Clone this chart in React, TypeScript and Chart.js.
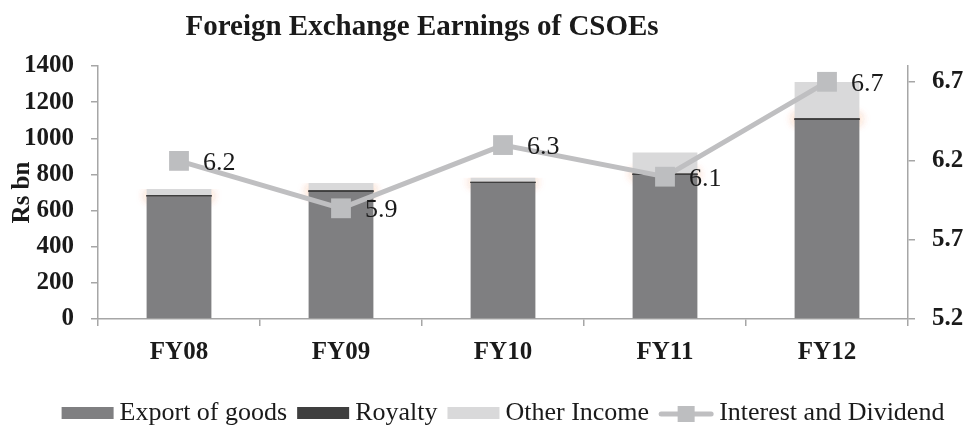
import React, { useEffect, useRef } from 'react';
import { Chart, registerables } from 'chart.js';

Chart.register(...registerables);

const categories = ['FY08', 'FY09', 'FY10', 'FY11', 'FY12'];
const exportGoods = [678, 703, 753, 797, 1101];
const royalty = [8, 10, 7, 8, 10];
const otherIncome = [33, 39, 22, 117, 201];
const interestDividend = [6.2, 5.9, 6.3, 6.1, 6.7];
const rightTicks = [5.2, 5.7, 6.2, 6.7];

const SERIF = '"Liberation Serif", "Times New Roman", serif';
const TEXT = '#1a1a1a';
const AXIS = '#a6a6a6';
const C_EXPORT = '#7f7f81';
const C_ROYALTY = '#3f3f3f';
const C_OTHER = '#d9d9da';
const C_LINE = '#bfbfc1';
const C_MARK = '#bdbec0';

const glowPlugin = {
  id: 'glow',
  beforeDatasetsDraw(chart: any) {
    const meta = chart.getDatasetMeta(1);
    const top = chart.getDatasetMeta(2);
    const ctx = chart.ctx;
    ctx.save();
    ctx.beginPath();
    top.data.forEach((el: any) => {
      ctx.rect(el.x - 60, el.y, 120, chart.chartArea.bottom - el.y);
    });
    ctx.clip();
    ctx.shadowColor = 'rgba(240,120,50,0.9)';
    ctx.shadowBlur = 12;
    for (let k = 0; k < 3; k++) meta.data.forEach((el: any) => el.draw(ctx));
    ctx.restore();
  },
};

const labelPlugin = {
  id: 'pointLabels',
  afterDatasetsDraw(chart: any) {
    const meta = chart.getDatasetMeta(3);
    const ctx = chart.ctx;
    ctx.save();
    ctx.font = `26px ${SERIF}`;
    ctx.fillStyle = TEXT;
    ctx.textAlign = 'left';
    ctx.textBaseline = 'middle';
    meta.data.forEach((pt: any, i: number) => {
      ctx.fillText(interestDividend[i].toFixed(1), pt.x + 24, pt.y + 2);
    });
    ctx.restore();
  },
};

const titlePlugin = {
  id: 'customTitle',
  afterDraw(chart: any) {
    const ctx = chart.ctx;
    ctx.save();
    ctx.font = `bold 29px ${SERIF}`;
    ctx.fillStyle = TEXT;
    ctx.textAlign = 'center';
    ctx.textBaseline = 'middle';
    ctx.fillText('Foreign Exchange Earnings of CSOEs', chart.width * 0.436, 28);
    ctx.restore();
  },
};

const legendPlugin = {
  id: 'customLegend',
  afterDraw(chart: any) {
    const ctx = chart.ctx;
    const items = [
      { kind: 'box', color: C_EXPORT, text: 'Export of goods' },
      { kind: 'box', color: C_ROYALTY, text: 'Royalty' },
      { kind: 'box', color: C_OTHER, text: 'Other Income' },
      { kind: 'line', color: C_LINE, text: 'Interest and Dividend' },
    ];
    ctx.save();
    ctx.font = `26px ${SERIF}`;
    const boxW = 52, lineW = 54, gapT = 6, gapI = 10;
    let total = 0;
    items.forEach((it, i) => {
      total += (it.kind === 'box' ? boxW : lineW) + gapT + ctx.measureText(it.text).width;
      if (i < items.length - 1) total += gapI;
    });
    const ca = chart.chartArea;
    let x = (ca.left + ca.right) / 2 - total / 2;
    const cy = 413;
    ctx.textBaseline = 'middle';
    ctx.textAlign = 'left';
    items.forEach((it) => {
      if (it.kind === 'box') {
        ctx.fillStyle = it.color;
        ctx.fillRect(x, cy - 6, boxW, 12);
        x += boxW + gapT;
      } else {
        ctx.strokeStyle = it.color;
        ctx.lineWidth = 5;
        ctx.lineCap = 'round';
        ctx.beginPath();
        ctx.moveTo(x + 2, cy + 1);
        ctx.lineTo(x + lineW - 2, cy + 1);
        ctx.stroke();
        ctx.fillStyle = C_MARK;
        ctx.fillRect(x + lineW / 2 - 8.5, cy - 7, 17, 16);
        x += lineW + gapT;
      }
      ctx.fillStyle = TEXT;
      ctx.fillText(it.text, x, cy);
      x += ctx.measureText(it.text).width + gapI;
    });
    ctx.restore();
  },
};

export default function App() {
  const ref = useRef<HTMLCanvasElement>(null);

  useEffect(() => {
    document.body.style.margin = '0';
    if (!ref.current) return;
    const tickFont = { family: SERIF, size: 25, weight: 'bold' as const };
    const chart = new Chart(ref.current, {
      type: 'bar',
      data: {
        labels: categories,
        datasets: [
          { label: 'Export of goods', data: exportGoods, backgroundColor: C_EXPORT, yAxisID: 'y', order: 1, barPercentage: 0.4, categoryPercentage: 1 },
          { label: 'Royalty', data: royalty, backgroundColor: C_ROYALTY, yAxisID: 'y', order: 1, barPercentage: 0.4, categoryPercentage: 1 },
          { label: 'Other Income', data: otherIncome, backgroundColor: C_OTHER, yAxisID: 'y', order: 1, barPercentage: 0.4, categoryPercentage: 1 },
          {
            type: 'line' as const,
            label: 'Interest and Dividend',
            data: interestDividend,
            yAxisID: 'y1',
            order: 0,
            borderColor: C_LINE,
            borderWidth: 5,
            pointStyle: 'rect',
            pointRadius: 14,
            pointHoverRadius: 14,
            pointBackgroundColor: C_MARK,
            pointBorderWidth: 0,
            tension: 0,
          } as any,
        ],
      },
      options: {
        responsive: false,
        animation: false,
        layout: { padding: { top: 66, left: 0, right: 0, bottom: 0 } },
        plugins: { legend: { display: false }, title: { display: false }, tooltip: { enabled: false } },
        scales: {
          x: {
            stacked: true,
            grid: { display: true, drawOnChartArea: false, drawTicks: true, tickLength: 7, color: AXIS, lineWidth: 1.5, offset: true },
            border: { color: AXIS, width: 1.5 },
            ticks: { font: tickFont, color: TEXT, padding: 12 },
            afterFit: (s: any) => { s.height = 109; },
          },
          y: {
            position: 'left',
            stacked: true,
            min: 0,
            max: 1400,
            ticks: { stepSize: 200, font: tickFont, color: TEXT, padding: 17, callback: (v: any) => String(v) },
            grid: { drawOnChartArea: false, drawTicks: true, tickLength: 7, color: AXIS, lineWidth: 1.5 },
            border: { color: AXIS, width: 1.5 },
            title: { display: true, text: 'Rs bn', font: tickFont, color: TEXT, padding: { top: 8, bottom: 0 } },
            afterFit: (s: any) => { s.width = 98; },
          },
          y1: {
            position: 'right',
            min: 5.2,
            max: 6.8,
            ticks: { font: tickFont, color: TEXT, padding: 17, callback: (v: any) => Number(v).toFixed(1) },
            afterBuildTicks: (s: any) => { s.ticks = rightTicks.map((v) => ({ value: v })); },
            grid: { drawOnChartArea: false, drawTicks: true, tickLength: 7, color: AXIS, lineWidth: 1.5 },
            border: { color: AXIS, width: 1.5 },
            afterFit: (s: any) => { s.width = 60; },
          },
        },
      },
      plugins: [glowPlugin, labelPlugin, titlePlugin, legendPlugin],
    });
    return () => chart.destroy();
  }, []);

  return (
    <div style={{ width: 968, height: 428 }}>
      <canvas ref={ref} width={968} height={428} />
    </div>
  );
}
